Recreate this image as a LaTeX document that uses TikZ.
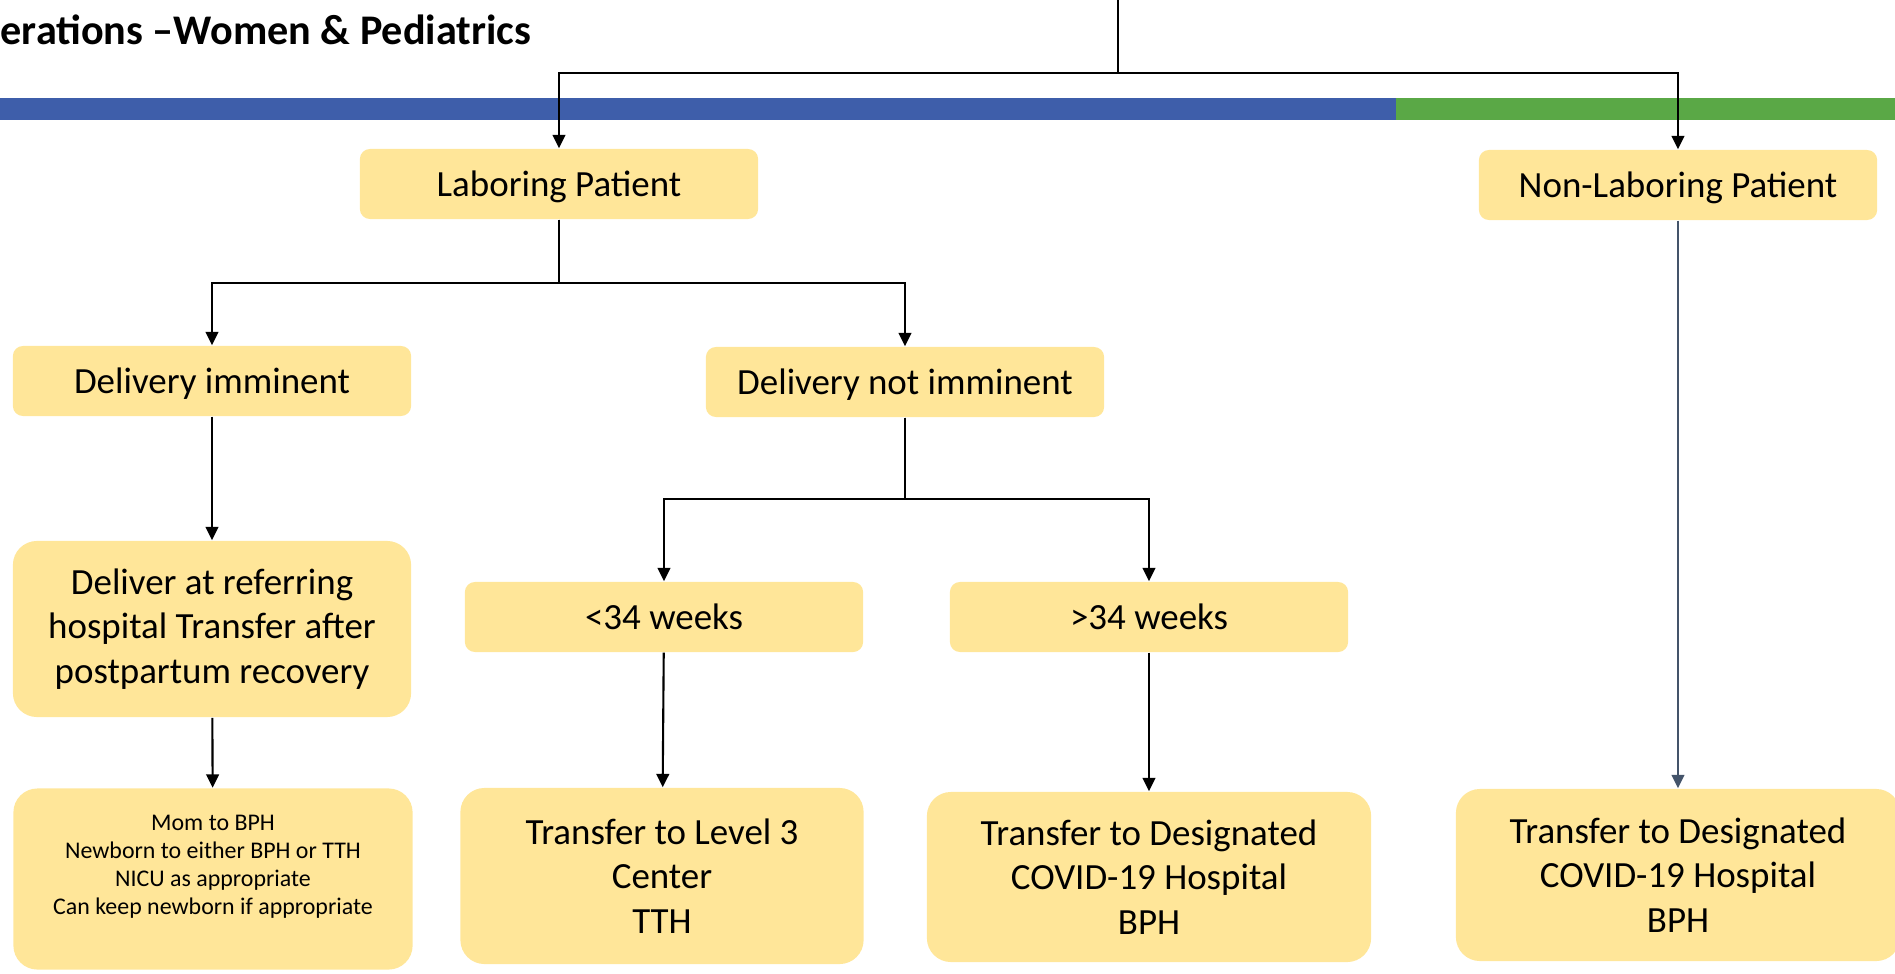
\documentclass[tikz,border=0pt]{standalone}
\usepackage{fontspec}
\setmainfont{Carlito}
\usetikzlibrary{arrows.meta}
\definecolor{boxyellow}{RGB}{255,230,153}
\definecolor{barblue}{RGB}{62,94,170}
\definecolor{bargreen}{RGB}{90,168,70}
\definecolor{slate}{RGB}{68,84,106}
\tikzset{
	boxtext/.style={font=\fontsize{10.5}{12.7}\selectfont},
	smallbox/.style={boxtext, fill=boxyellow, rounded corners=0.1cm, minimum width=3.98cm, minimum height=0.7cm, inner sep=0pt, align=center, text height=3.3mm, text depth=0.75mm},
	bigbox/.style={boxtext, fill=boxyellow, rounded corners=0.24cm, inner sep=0pt, align=center},
	arr/.style={line width=0.6pt, -{Triangle[width=3.6pt,length=3.8pt]}},
}

\begin{document}
\begin{tikzpicture}[x=0.01cm,y=-0.01cm]
		\useasboundingbox (0,0) rectangle (1895,973);
		% header
		\node[anchor=west, inner sep=0pt, font=\bfseries\fontsize{12}{14}\selectfont] (title) at (0,30) {erations –Women \& Pediatrics};
		\fill[barblue] (0,98) rectangle (1396,120);
		\fill[bargreen] (1396,98) rectangle (1895,120);
		% boxes
		\node[smallbox] (labor) at (559,184) {Laboring Patient};
		\node[smallbox] (nonlabor) at (1678,185) {Non-Laboring Patient};
		\node[smallbox] (dimm) at (212,381) {Delivery imminent};
		\node[smallbox] (dnot) at (905,382) {Delivery not imminent};
		\node[smallbox] (lt34) at (664,617) {<34 weeks};
		\node[smallbox] (gt34) at (1149,617) {>34 weeks};
		\node[bigbox, minimum width=3.98cm, minimum height=1.76cm] (deliver) at (212,629) {Deliver at referring\\hospital Transfer after\\postpartum recovery};
		\node[bigbox, minimum width=3.99cm, minimum height=1.81cm, font=\fontsize{6.8}{8}\selectfont] (mom) at (213,879) {Mom to BPH\\Newborn to either BPH or TTH\\NICU as appropriate\\Can keep newborn if appropriate\\~};
		\node[bigbox, minimum width=4.03cm, minimum height=1.76cm] (lvl3) at (662,876) {Transfer to Level 3\\Center\\TTH};
		\node[bigbox, minimum width=4.44cm, minimum height=1.70cm] (desig) at (1149,877) {Transfer to Designated\\COVID-19 Hospital\\BPH};
		\node[bigbox, minimum width=4.44cm, minimum height=1.72cm] (desigr) at (1678,875) {Transfer to Designated\\COVID-19 Hospital\\BPH};
		% connectors
		\coordinate (top) at (1118,0);
		\coordinate (split) at (1118,73);
		\draw[arr] (top) -- (split) -| (labor.north);
		\draw[arr] (split) -| (nonlabor.north);
		\draw[arr] (labor.south) -- ++(0,63) -| (dimm.north);
		\draw[arr] (labor.south) -- ++(0,63) -| (dnot.north);
		\draw[arr] (dimm) -- (deliver);
		\draw[arr] (deliver) -- (mom);
		\draw[arr] (dnot.south) -- ++(0,81) -| (lt34.north);
		\draw[arr] (dnot.south) -- ++(0,81) -| (gt34.north);
		\draw[arr] (lt34) -- (lvl3);
		\draw[arr] (gt34) -- (desig);
		\draw[arr, slate] (nonlabor) -- (desigr);
\end{tikzpicture}
\end{document}
